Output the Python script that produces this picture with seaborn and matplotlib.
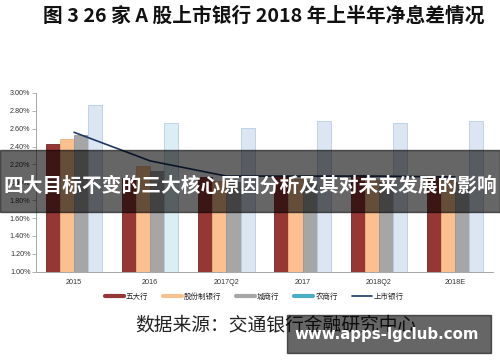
import numpy as np
import pandas as pd
import matplotlib
matplotlib.use("Agg")
import matplotlib.pyplot as plt
from matplotlib import font_manager
from matplotlib.lines import Line2D
import seaborn as sns

# ---- data ----
categories = ["2015", "2016", "2017Q2", "2017", "2018Q2", "2018E"]
big_five = [2.43, 2.05, 2.06, 2.07, 2.08, 2.07]
joint_stock = [2.48, 2.18, 2.02, 2.04, 2.03, 2.03]
city_banks = [2.53, 2.13, 2.00, 2.01, 2.00, 2.00]
rural_banks = [2.87, 2.66, 2.61, 2.69, 2.66, 2.69]
listed_banks = [2.56, 2.24, 2.07, 2.07, 2.07, 2.06]
series_names = ["五大行", "股份制银行", "城商行", "农商行"]
line_name = "上市银行"
y_ticks = [1.0, 1.2, 1.4, 1.6, 1.8, 2.0, 2.2, 2.4, 2.6, 2.8, 3.0]

title = "图 3 26 家 A 股上市银行 2018 年上半年净息差情况"
source = "数据来源：交通银行金融研究中心"
banner = "四大目标不变的三大核心原因分析及其对未来发展的影响"
watermark = "www.apps-lgclub.com"

sns.set_theme(style="white")
names = {f.name for f in font_manager.fontManager.ttflist}
num_font = "Liberation Sans Narrow" if "Liberation Sans Narrow" in names else "Liberation Sans"
num_size = 6.0 if num_font == "Liberation Sans Narrow" else 5.2
plt.rcParams["font.family"] = ["Noto Sans CJK SC", "DejaVu Sans"]

df = pd.DataFrame({
    "cat": categories * 4,
    "series": sum([[s] * len(categories) for s in series_names], []),
    "value": big_five + joint_stock + city_banks + rural_banks,
})

colors = ["#953735", "#FAC090", "#A6A6A6", "#DCE6F2"]
edges = ["#6e2a2a", "#eeb27f", "#989898", "#b9cde5"]
legend_colors = ["#953735", "#FAC090", "#A6A6A6", "#4BACC6"]

fig = plt.figure(figsize=(5.0, 3.62), dpi=100)
ax = fig.add_axes([0.072, 0.2494, 0.914, 0.4937])

sns.barplot(data=df, x="cat", y="value", hue="series", order=categories,
            hue_order=series_names, palette=colors, width=0.74, ax=ax,
            legend=False, errorbar=None, saturation=1)

n = len(categories)
for i, cont in enumerate(ax.containers):
    for j, p in enumerate(cont):
        p.set_edgecolor(edges[i])
        p.set_linewidth(0.6)
        if i == 3 and j == 1:
            p.set_facecolor("#DAEEF3")

sns.lineplot(x=np.arange(n), y=listed_banks, ax=ax, color="#1F3864",
             linewidth=1.2, legend=False)

ax.set_ylim(1.0, 3.0)
ax.set_xlim(-0.5, n - 0.5)
ax.set_yticks(y_ticks)
ax.set_yticklabels([f"{v:.2f}%" for v in y_ticks], fontsize=num_size,
                   family=num_font, color="#333333")
ax.set_xticks(np.arange(n))
ax.set_xticklabels(categories, fontsize=num_size, family=num_font, color="#333333")
ax.set_xticks(np.arange(-0.5, n, 1), minor=True)
ax.tick_params(axis="x", which="major", length=0, pad=5)
ax.tick_params(axis="x", which="minor", length=4, width=0.6, color="#a6a6a6",
               direction="out")
ax.tick_params(axis="y", length=3, width=0.6, color="#a6a6a6", pad=1,
               direction="out", left=True)
ax.set_xlabel("")
ax.set_ylabel("")
for s in ["top", "right"]:
    ax.spines[s].set_visible(False)
for s in ["left", "bottom"]:
    ax.spines[s].set_color("#a6a6a6")
    ax.spines[s].set_linewidth(0.7)

handles = [Line2D([0], [0], color=c, lw=3.0) for c in legend_colors]
handles.append(Line2D([0], [0], color="#1F3864", lw=1.2))
fig.legend(handles, series_names + [line_name], loc="center",
           bbox_to_anchor=(0.508, 0.180), ncol=5, frameon=False,
           prop={"family": ["Noto Sans CJK SC"], "size": 5.4},
           handlelength=2.6, handletextpad=0.25, columnspacing=1.9)

fig.text(0.528, 0.956, title, ha="center", va="center", fontsize=14.2,
         fontweight="bold", color="#111111")
fig.text(0.27, 0.102, source, ha="left", va="center", fontsize=13.5,
         color="#222222")

# overlay banner
fig.patches.append(plt.Rectangle((0, 1 - 212 / 362), 1, 62 / 362,
                                 transform=fig.transFigure, color="black",
                                 alpha=0.6, zorder=5))
fig.text(0.5, 1 - 186 / 362, banner, ha="center", va="center", fontsize=14.2,
         fontweight="bold", color="white", zorder=6)
fig.patches.append(plt.Rectangle((287 / 500, 1 - 353 / 362), 204 / 500, 38 / 362,
                                 transform=fig.transFigure, color="black",
                                 alpha=0.6, zorder=5))
fig.text(387 / 500, 1 - 334 / 362, watermark, ha="center", va="center",
         fontsize=10.8, fontweight="bold", color="white", zorder=6,
         family=["DejaVu Sans"])

fig.savefig("out.png", dpi=100)
